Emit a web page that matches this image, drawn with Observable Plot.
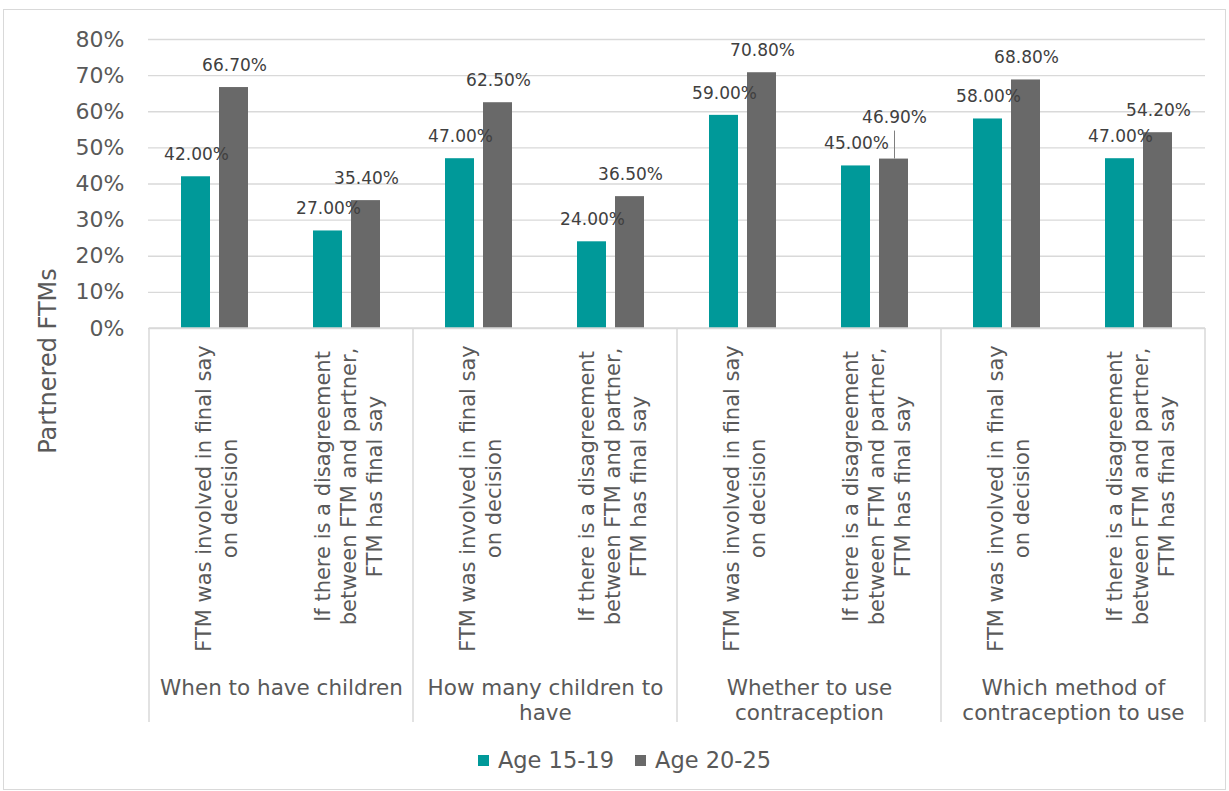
<!DOCTYPE html>
<html><head><meta charset="utf-8">
<script src="https://cdn.jsdelivr.net/npm/d3@7"></script>
<script src="https://cdn.jsdelivr.net/npm/@observablehq/plot@0.6"></script>
<style>
body{margin:0;background:#fff;font-family:"DejaVu Sans",sans-serif;}
#frame{position:absolute;left:3px;top:9px;width:1223px;height:781px;border:1px solid #d9d9d9;box-sizing:border-box;}
#chart{position:absolute;left:0;top:0;}
#legend{position:absolute;left:10px;top:746px;width:1229px;display:flex;justify-content:center;align-items:center;gap:21px;font-size:22.5px;color:#595959;line-height:28px;}
#legend .item{display:flex;align-items:center;gap:9px;}
#legend .sw{width:11px;height:11px;display:inline-block;}
</style></head>
<body>
<div id="frame"></div>
<div id="chart"></div>
<div id="legend"></div>
<script>
const groups = ["When to have children","How many children to\nhave","Whether to use\ncontraception","Which method of\ncontraception to use"];
const subLabels = ["FTM was involved in final say\non decision","If there is a disagreement\nbetween FTM and partner,\nFTM has final say"];
const series = ["Age 15-19","Age 20-25"];
const age1519 = [42,27,47,24,59,45,58,47];
const age2025 = [66.7,35.4,62.5,36.5,70.8,46.9,68.8,54.2];
const colors = ["#009999","#696969"];
const yTicks = [0,10,20,30,40,50,60,70,80];
const yTitle = "Partnered FTMs";
// the one value label that was moved up with a leader line in the original
const liftedLabel = {series: "Age 20-25", index: 5};

const cats = groups.flatMap((g,gi)=>subLabels.map((s,si)=>({key: gi+"-"+si, group: g, sub: s, gi, si})));
const keys = cats.map(c=>c.key);
const rows = cats.flatMap((c,i)=>[
  {...c, i, series: series[0], value: age1519[i]},
  {...c, i, series: series[1], value: age2025[i]}
]);
const isLifted = d => d.series===liftedLabel.series && d.i===liftedLabel.index;
const fmt = v => v.toFixed(2)+"%";
const s0 = rows.filter(d=>d.series===series[0]);
const s1 = rows.filter(d=>d.series===series[1]);
const half = (1205-148)/8/2;

const chart = Plot.plot({
  width: 1229, height: 740,
  marginLeft: 148, marginRight: 24, marginTop: 39, marginBottom: 412,
  style: {fontFamily: "DejaVu Sans", background: "transparent", overflow: "visible"},
  x: {domain: keys, padding: 0, axis: null},
  y: {domain: [0,80], axis: null},
  marks: [
    Plot.gridY(yTicks, {stroke: "#d9d9d9", strokeOpacity: 1, strokeWidth: 1.3}),
    Plot.barY(s0, {x: "key", y: "value", fill: colors[0], insetLeft: 32, insetRight: 71}),
    Plot.barY(s1, {x: "key", y: "value", fill: colors[1], insetLeft: 70, insetRight: 33}),
    Plot.text(s0, {x: "key", y: "value", text: d=>fmt(d.value), dx: -19, dy: -22, fontSize: 17, fill: "#404040"}),
    Plot.text(s1.filter(d=>!isLifted(d)), {x: "key", y: "value", text: d=>fmt(d.value), dx: 19, dy: -22, fontSize: 17, fill: "#404040"}),
    Plot.text(s1.filter(isLifted), {x: "key", y: "value", text: d=>fmt(d.value), dx: 19, dy: -42, fontSize: 17, fill: "#404040"}),
    Plot.ruleX(s1.filter(isLifted), {x: "key", y1: "value", y2: "value", dx: 19, insetTop: -28, stroke: "#7f7f7f", strokeWidth: 1}),
    Plot.axisY(yTicks, {tickSize: 0, tickPadding: 24, tickFormat: d=>d+"%", fontSize: 22, color: "#595959", label: null}),
    Plot.text(cats.filter(c=>c.si===0), {x: "key", text: "sub", frameAnchor: "bottom", rotate: -90, dy: 170, textAnchor: "middle", lineAnchor: "middle", lineHeight: 1.24, fontSize: 21, fill: "#595959"}),
    Plot.text(cats.filter(c=>c.si===1), {x: "key", text: "sub", frameAnchor: "bottom", rotate: -90, dy: 158, textAnchor: "middle", lineAnchor: "middle", lineHeight: 1.24, fontSize: 21, fill: "#595959"}),
    Plot.text(cats.filter(c=>c.si===1), {x: "key", text: "group", frameAnchor: "bottom", dx: -half, dy: 349, textAnchor: "middle", lineAnchor: "top", lineHeight: 1.15, fontSize: 21.5, fill: "#595959"}),
    Plot.text([yTitle], {text: d=>d, frameAnchor: "left", rotate: -90, dx: -100, dy: 177, textAnchor: "middle", fontSize: 24, fill: "#595959"})
  ]
});
document.getElementById("chart").appendChild(chart);

// axis baseline and group separators, placed with Plot's own scales
const xs = chart.scale("x"), ys = chart.scale("y");
const y0 = ys.apply(0);
const bounds = groups.map((g,gi)=>xs.apply(keys[gi*2])).concat([xs.apply(keys[keys.length-1]) + xs.bandwidth]);
const g = d3.select(chart).append("g").attr("stroke", "#d9d9d9").attr("stroke-width", 1.5);
g.append("line").attr("x1", bounds[0]).attr("x2", bounds[bounds.length-1]).attr("y1", y0).attr("y2", y0);
g.selectAll("line.sep").data(bounds).join("line").attr("class","sep")
  .attr("x1", d=>d).attr("x2", d=>d).attr("y1", y0).attr("y2", 722);

const legend = d3.select("#legend");
series.forEach((s,i)=>{
  const it = legend.append("div").attr("class","item");
  it.append("span").attr("class","sw").style("background", colors[i]);
  it.append("span").text(s);
});
</script>
</body></html>
